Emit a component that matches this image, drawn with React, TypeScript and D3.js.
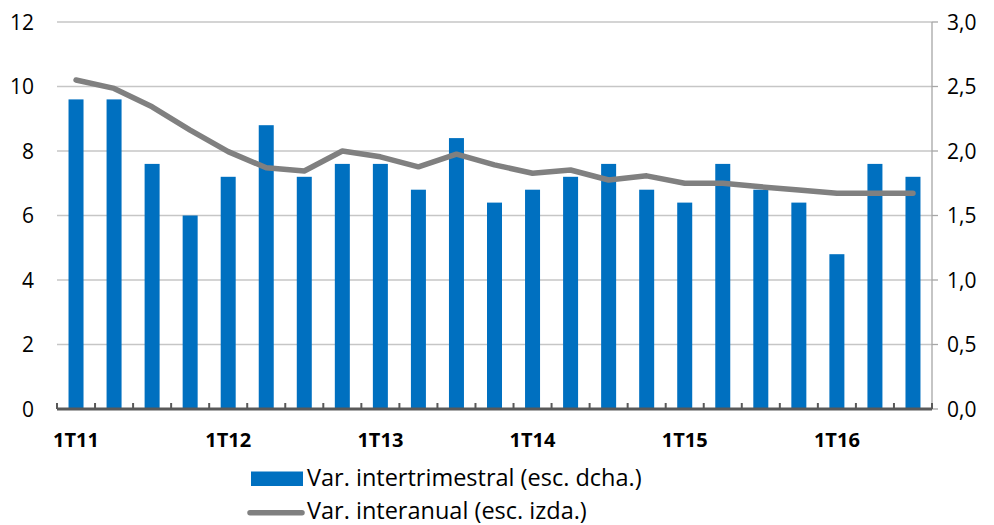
import React from "react";
import * as d3 from "d3";

const categories: string[] = [
  "1T11","2T11","3T11","4T11",
  "1T12","2T12","3T12","4T12",
  "1T13","2T13","3T13","4T13",
  "1T14","2T14","3T14","4T14",
  "1T15","2T15","3T15","4T15",
  "1T16","2T16","3T16",
];
// Var. intertrimestral (right scale)
const intertrimestral: number[] = [
  2.4, 2.4, 1.9, 1.5, 1.8, 2.2, 1.8, 1.9, 1.9, 1.7, 2.1, 1.6,
  1.7, 1.8, 1.9, 1.7, 1.6, 1.9, 1.7, 1.6, 1.2, 1.9, 1.8,
];
// Var. interanual (left scale)
const interanual: number[] = [
  10.2, 9.94, 9.37, 8.65, 7.98, 7.48, 7.38, 8.0, 7.82, 7.51, 7.9, 7.57,
  7.31, 7.41, 7.1, 7.23, 7.0, 7.0, 6.89, 6.79, 6.69, 6.69, 6.69,
];
const leftTicks: number[] = [0, 2, 4, 6, 8, 10, 12];
const rightTicks: number[] = [0, 0.5, 1, 1.5, 2, 2.5, 3];
const xLabels: string[] = ["1T11", "1T12", "1T13", "1T14", "1T15", "1T16"];
const legendBar = "Var. intertrimestral (esc. dcha.)";
const legendLine = "Var. interanual (esc. izda.)";

const W = 994, H = 525;
const left = 57, right = 932, top = 22, bottom = 409;

export default function App() {
  const x = d3.scaleBand<string>().domain(categories).range([left, right]).paddingInner(0).paddingOuter(0);
  const yL = d3.scaleLinear().domain([0, 12]).range([bottom, top]);
  const yR = d3.scaleLinear().domain([0, 3]).range([bottom, top]);
  const bw = x.bandwidth();
  const barW = 15;
  const line = d3.line<number>()
    .x((_, i) => (x(categories[i]) as number) + bw / 2)
    .y((d) => yL(d));
  const fmt = (v: number) => v.toFixed(1).replace(".", ",");
  const font = "'Open Sans', sans-serif";
  return (
    <svg width={W} height={H} style={{ position: "absolute", left: 0, top: 0, background: "#fff" }}>
      {leftTicks.map((t) => (
        <line key={"g" + t} x1={left} x2={right} y1={yL(t)} y2={yL(t)} stroke="#c6c6c6" strokeWidth={1.3} />
      ))}
      {intertrimestral.map((v, i) => (
        <rect key={"b" + i} x={(x(categories[i]) as number) + (bw - barW) / 2} y={yR(v)} width={barW}
          height={bottom - yR(v)} fill="#0070C0" />
      ))}
      {/* right axis */}
      <line x1={right} x2={right} y1={top} y2={bottom} stroke="#a6a6a6" strokeWidth={1.3} />
      {rightTicks.map((t) => (
        <line key={"rt" + t} x1={right} x2={right + 6} y1={yR(t)} y2={yR(t)} stroke="#a6a6a6" strokeWidth={1.3} />
      ))}
      {rightTicks.map((t) => (
        <text key={"rl" + t} x={947} y={yR(t)} dy="0.36em" fontFamily={font} fontSize={21} fill="#000">{fmt(t)}</text>
      ))}
      {/* left labels */}
      {leftTicks.map((t) => (
        <text key={"ll" + t} x={34} y={yL(t)} dy="0.36em" textAnchor="end" fontFamily={font} fontSize={21} fill="#000">{t}</text>
      ))}
      {/* x axis */}
      <line x1={left} x2={right} y1={bottom} y2={bottom} stroke="#595959" strokeWidth={3} />
      {categories.map((c, i) => (
        <line key={"xt" + i} x1={(x(c) as number)} x2={(x(c) as number)} y1={bottom} y2={bottom - 6} stroke="#595959" strokeWidth={2} />
      ))}
      <line x1={right} x2={right} y1={bottom} y2={bottom - 6} stroke="#595959" strokeWidth={2} />
      {xLabels.map((l) => (
        <text key={"xl" + l} x={(x(l) as number) + bw / 2} y={447} textAnchor="middle" fontFamily={font}
          fontWeight="bold" fontSize={20} fill="#000">{l}</text>
      ))}
      <path d={line(interanual) || ""} fill="none" stroke="#808080" strokeWidth={5.5} strokeLinejoin="round" strokeLinecap="round" />
      {/* legend */}
      <rect x={251} y={471.5} width={52} height={14.5} fill="#0070C0" />
      <text x={307} y={485.5} fontFamily={font} fontSize={23.5} fill="#000">{legendBar}</text>
      <line x1={250} x2={302} y1={512.7} y2={512.7} stroke="#808080" strokeWidth={5.5} strokeLinecap="round" />
      <text x={307} y={519} fontFamily={font} fontSize={23.5} fill="#000">{legendLine}</text>
    </svg>
  );
}
